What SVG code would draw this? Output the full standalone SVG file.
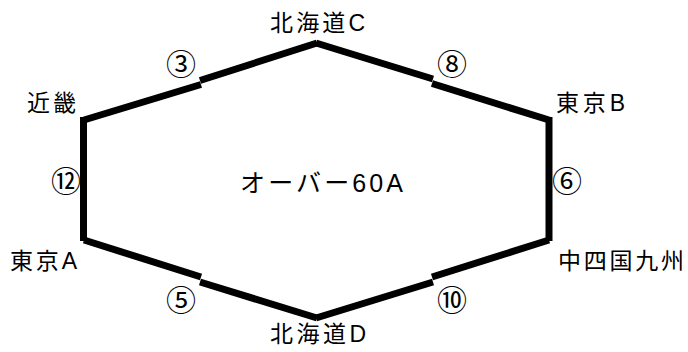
<svg xmlns="http://www.w3.org/2000/svg" width="688" height="352" viewBox="0 0 688 352">
<style>
.lbl{font-family:"Liberation Sans","Noto Sans CJK JP",sans-serif;font-size:23px;fill:#000}
.big{font-size:25px}
.num{font-family:"Noto Sans CJK JP","Noto Sans",sans-serif;font-size:30px;fill:#000;text-anchor:middle}
.edge{stroke:#000;stroke-width:7;fill:none;stroke-linecap:butt}
</style>
<rect width="688" height="352" fill="#fff"/>
<g id="connectors">
<line class="edge" x1="84" y1="120" x2="201" y2="84.5"/>
<line class="edge" x1="200" y1="80.5" x2="317" y2="43"/>
<line class="edge" x1="316" y1="43" x2="433" y2="79"/>
<line class="edge" x1="432" y1="83.5" x2="549" y2="120"/>
<line class="edge" x1="549" y1="117" x2="549" y2="241"/>
<line class="edge" x1="549" y1="240" x2="432" y2="277"/>
<line class="edge" x1="433" y1="282" x2="316" y2="318"/>
<line class="edge" x1="317" y1="318" x2="200" y2="282"/>
<line class="edge" x1="201" y1="277" x2="84" y2="240"/>
<line class="edge" x1="83.5" y1="241" x2="83.5" y2="117"/>
<text class="num" x="181" y="75">③</text>
<text class="num" x="452" y="75">⑧</text>
<text class="num" x="567" y="192">⑥</text>
<text class="num" x="452" y="311">⑩</text>
<text class="num" x="181" y="311">⑤</text>
<text class="num" x="66" y="192">⑫</text>
</g>
<g id="hokkaido-c"><text class="lbl" x="270" y="31" textLength="95" lengthAdjust="spacing">北海道C</text></g>
<g id="tokyo-b"><text class="lbl" x="556" y="111" textLength="69" lengthAdjust="spacing">東京B</text></g>
<g id="chushikoku-kyushu"><text class="lbl" x="558" y="269" textLength="126" lengthAdjust="spacing">中四国九州</text></g>
<g id="hokkaido-d"><text class="lbl" x="270" y="342" textLength="96" lengthAdjust="spacing">北海道D</text></g>
<g id="tokyo-a"><text class="lbl" x="10" y="269" textLength="67" lengthAdjust="spacing">東京A</text></g>
<g id="kinki"><text class="lbl" x="27" y="111" textLength="49" lengthAdjust="spacing">近畿</text></g>
<g id="center"><text class="lbl big" x="240" y="192" textLength="163" lengthAdjust="spacing">オーバー60A</text></g>
</svg>
